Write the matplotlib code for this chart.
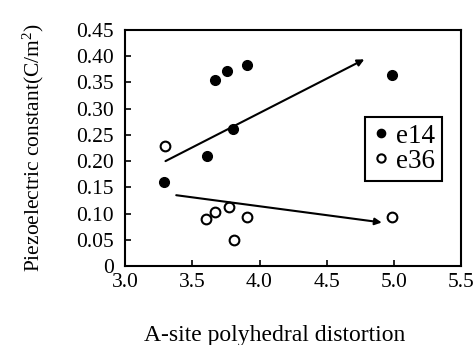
import matplotlib
matplotlib.use("Agg")
import matplotlib.pyplot as plt

# data
x_e14 = [3.29, 3.61, 3.67, 3.76, 3.91, 3.80, 4.99]
y_e14 = [0.160, 0.210, 0.354, 0.371, 0.383, 0.261, 0.364]
x_e36 = [3.30, 3.60, 3.67, 3.77, 3.91, 3.81, 4.99]
y_e36 = [0.229, 0.090, 0.103, 0.112, 0.093, 0.050, 0.094]

# trend arrows (start, end)
arrow_up = [(3.30, 0.200), (4.78, 0.394)]
arrow_down = [(3.38, 0.135), (4.91, 0.083)]

xticks = [3.0, 3.5, 4.0, 4.5, 5.0, 5.5]
yticks = [0, 0.05, 0.10, 0.15, 0.20, 0.25, 0.30, 0.35, 0.40, 0.45]
ytick_labels = ["0", "0.05", "0.10", "0.15", "0.20", "0.25", "0.30", "0.35", "0.40", "0.45"]

plt.rcParams['font.family'] = ['Liberation Serif', 'DejaVu Serif']
plt.rcParams['mathtext.fontset'] = 'custom'
plt.rcParams['mathtext.rm'] = 'Liberation Serif'

fig = plt.figure(figsize=(4.76, 3.45), dpi=100)
ax = fig.add_axes([0.263, 0.229, 0.7055, 0.684])

ax.plot(x_e14, y_e14, 'o', color='black', markersize=7, label='e14', linestyle='none')
ax.plot(x_e36, y_e36, 'o', markerfacecolor='white', markeredgecolor='black',
        markeredgewidth=1.5, markersize=7, label='e36', linestyle='none')

for (x0, y0), (x1, y1) in [arrow_up, arrow_down]:
    ax.annotate('', xy=(x1, y1), xytext=(x0, y0),
                arrowprops=dict(arrowstyle='-|>', color='black', lw=1.5,
                                mutation_scale=10, shrinkA=0, shrinkB=0))

ax.set_xlim(3.0, 5.5)
ax.set_ylim(0, 0.45)
ax.set_xticks(xticks)
ax.set_xticklabels([f"{t:.1f}" for t in xticks])
ax.set_yticks(yticks)
ax.set_yticklabels(ytick_labels)
ax.tick_params(direction='in', length=4, width=1.2, labelsize=15.5, pad=5)
ax.tick_params(axis='y', pad=8)
for s in ax.spines.values():
    s.set_linewidth(1.5)

ax.set_ylabel('Piezoelectric constant(C/m$\\mathrm{^2}$)', fontsize=15.5, labelpad=22)
ax.set_xlabel('A-site polyhedral distortion', fontsize=17, labelpad=24)
ax.xaxis.label.set_x(0.446)

leg = ax.legend(loc='upper left', bbox_to_anchor=(0.714, 0.631), fontsize=19.5,
                frameon=True, fancybox=False, edgecolor='black', framealpha=1,
                handletextpad=0.2, handlelength=0.7, markerscale=0.85,
                borderpad=0.25, labelspacing=0.0, borderaxespad=0)
leg.get_frame().set_linewidth(1.5)

fig.savefig('out.png', dpi=100)
